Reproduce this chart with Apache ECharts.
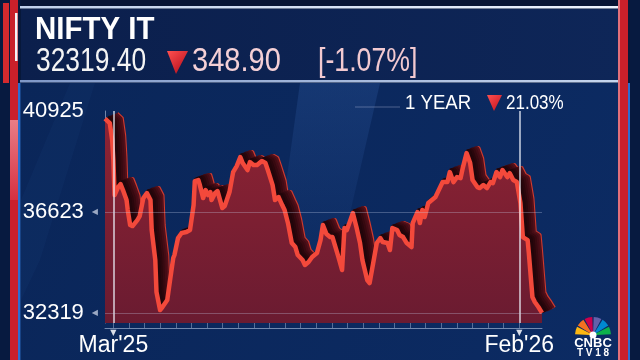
<!DOCTYPE html>
<html><head><meta charset="utf-8">
<script src="https://cdn.jsdelivr.net/npm/echarts@6/dist/echarts.min.js"></script>
<style>html,body{margin:0;padding:0;background:#07183a;overflow:hidden}#c{width:640px;height:360px}</style>
</head><body><div id="c"></div>
<script>
// ---- data ----
const days = [0,4,6,7,8,11,13,15,18,19,
21,23,27,29,32,35,38,39,42,43,
46,48,52,54,57,58,61,64,68,71,
74,75,78,79,82,84,86,88,89,92,
94,98,100,104,107,110,113,115,119,121,
124,127,131,134,136,140,142,145,148,150,
153,156,159,161,165,167,170,173,177,180,
182,185,188,190,195,198,200,202,205,207,
210,213,215,219,221,224,227,230,232,236,
238,240,244,246,249,252,256,257,261,263,
265,267,270,273,276,278,282,286,288,291,
294,297,299,302,305,307,311,313,316,319,
322,324,327,330,332,336,338,341,344,347,
349,353,354,357,359,362,365];
const values = [40600,40409,39685,38833,37342,37683,37810,37555,37129,36703,
36064,36021,36277,36447,37214,37427,37129,35851,34573,33210,
32443,32571,32869,33593,34658,34786,35510,35723,35766,35851,
36916,37938,37981,37810,37214,37555,37342,37470,37129,37427,
37512,36788,36873,37470,38322,38577,38961,38705,38407,38748,
38620,38620,38790,38705,38407,37768,37129,37257,36916,36703,
36106,35297,35127,34786,34573,34360,34488,34701,34871,35425,
36064,35680,35553,35553,34701,34147,35936,35851,36277,36575,
35979,35297,34573,33721,33593,34445,35297,35510,35340,35297,
34999,35936,35851,35638,35553,35297,35127,36149,36618,36149,
36703,36405,37001,37129,37257,37470,37896,37896,38322,37896,
38109,38066,38535,39131,38705,37981,37683,37640,37768,37640,
37896,37853,38322,38109,38407,38109,38279,37981,37896,37001,
35553,35425,34871,32997,32784,32571,32319];
const yTickValues = [32319, 36623, 40925];
const yTickLabels = ['32319', '36623', '40925'];
const xTickDays = [7, 346];
const xTickLabels = ["Mar'25", "Feb'26"];
const titleText = 'NIFTY IT';
const lastPrice = '32319.40';
const changeText = '348.90';
const changePct = '[-1.07%]';
const yearLabel = '1 YEAR';
const yearPct = '21.03%';

// ---- chart ----
const chart = echarts.init(document.getElementById('c'), null, {renderer: 'canvas'});
const lineData = days.map((d, i) => [d, values[i]]);
const Y_MIN = 31889, Y_MAX = 40925, X_MIN = 0, X_MAX = 365;
const minorY = []; for (let v = yTickValues[0]; v <= Y_MAX; v += 818) minorY.push(v);
const minorX = []; for (let k = 0; k <= 26; k++) minorX.push(xTickDays[0] + k * (xTickDays[1] - xTickDays[0]) / 26);

const G = {left: 105, right: 98, top: 111, bottom: 37};
const backOffsets = [[12, -5], [10, -4], [8, -3], [6, -2.5], [4, -1.5], [2, -1]];
const backColors = ['#cf3a2e', '#52101a', '#430c15', '#360910', '#2a060c', '#22050a'];

const grids = [], xAxes = [], yAxes = [], series = [];
backOffsets.forEach((o, k) => {
  grids.push({left: G.left + o[0], right: G.right - o[0], top: G.top + o[1], bottom: G.bottom - o[1]});
  xAxes.push({type: 'value', gridIndex: k, min: X_MIN, max: X_MAX, show: false});
  yAxes.push({type: 'value', gridIndex: k, min: Y_MIN, max: Y_MAX, show: false});
  series.push({type: 'line', xAxisIndex: k, yAxisIndex: k, data: lineData, symbol: 'none', clip: false,
    silent: true, z: 1, lineStyle: {color: backColors[k], width: k === 0 ? 4 : 6, join: 'round'}});
});
const F = backOffsets.length;
grids.push(G);
const axisCol = 'rgba(200,215,240,0.55)';
xAxes.push({
  type: 'value', gridIndex: F, min: X_MIN, max: X_MAX, offset: 5,
  axisLine: {show: true, lineStyle: {color: axisCol, width: 1}},
  axisTick: {show: true, inside: true, length: 5, customValues: minorX, lineStyle: {color: 'rgba(200,215,240,0.4)'}},
  axisLabel: {
    customValues: xTickDays, margin: 1,
    formatter: v => { const i = xTickDays.indexOf(v); return i < 0 ? '' : '{t|▼}\n{l|' + xTickLabels[i] + '}'; },
    rich: {
      t: {fontSize: 8, lineHeight: 8, color: '#d8dde8', fontFamily: 'DejaVu Sans'},
      l: {fontSize: 23, lineHeight: 17, color: '#ffffff', fontFamily: 'Liberation Sans'}
    }
  },
  splitLine: {show: false}
});
yAxes.push({
  type: 'value', gridIndex: F, min: Y_MIN, max: Y_MAX, offset: 5,
  axisLine: {show: true, lineStyle: {color: axisCol, width: 1}},
  axisTick: {show: true, inside: true, length: 5, customValues: minorY, lineStyle: {color: 'rgba(200,215,240,0.4)'}},
  axisLabel: {
    customValues: yTickValues, margin: 2,
    formatter: v => { const i = yTickValues.indexOf(v); if (i < 0) return ''; return '{v|' + yTickLabels[i] + '}{' + (i === 2 ? 'n' : 'a') + '|◀}'; },
    rich: {
      v: {fontSize: 22, color: '#ffffff', fontFamily: 'Liberation Sans'},
      a: {fontSize: 8, color: 'rgba(190,200,220,0.8)', padding: [0, 0, 0, 8], fontFamily: 'DejaVu Sans'},
      n: {fontSize: 8, color: 'rgba(0,0,0,0)', padding: [0, 0, 0, 8], fontFamily: 'DejaVu Sans'}
    }
  },
  splitLine: {show: false}
});
series.push({
  type: 'line', xAxisIndex: F, yAxisIndex: F, data: lineData, symbol: 'none', clip: false, z: 3,
  lineStyle: {color: '#f3493b', width: 4.5, join: 'round'},
  areaStyle: {opacity: 1, color: new echarts.graphic.LinearGradient(0, 0, 0, 1, [
    {offset: 0, color: '#8e2333'}, {offset: 1, color: '#6a1b31'}])},
  markLine: {
    silent: true, symbol: 'none', label: {show: false}, animation: false,
    data: [
      {xAxis: xTickDays[0], lineStyle: {color: 'rgba(235,240,250,0.85)', width: 1.5, type: 'solid'}},
      {xAxis: xTickDays[1], lineStyle: {color: 'rgba(235,240,250,0.85)', width: 1.5, type: 'solid'}},
      {yAxis: yTickValues[1], lineStyle: {color: 'rgba(200,210,235,0.3)', width: 1, type: 'solid'}},
      {yAxis: yTickValues[0], lineStyle: {color: 'rgba(200,210,235,0.3)', width: 1, type: 'solid'}}
    ]
  }
});

function txt(x, y, text, font, fill, sx, align) {
  return {type: 'text', x: x, y: y, scaleX: sx || 1, z: 10,
    style: {text: text, font: font, fill: fill, verticalAlign: 'middle', align: align || 'left'}};
}
function rect(x, y, w, h, fill, z) { return {type: 'rect', shape: {x: x, y: y, width: w, height: h}, style: {fill: fill}, z: z === undefined ? -10 : z, silent: true}; }
const lg = (x1, y1, x2, y2, a, b) => new echarts.graphic.LinearGradient(x1, y1, x2, y2, [{offset: 0, color: a}, {offset: 1, color: b}]);

const feathers = ['#fcb711', '#f37021', '#cc004c', '#6460aa', '#0089d0', '#0db14b'];
const logo = feathers.map((c, i) => ({
  type: 'sector', z: 10, silent: true,
  shape: {cx: 593, cy: 335, r0: 3, r: 18, startAngle: Math.PI + i * Math.PI / 6 + 0.04, endAngle: Math.PI + (i + 1) * Math.PI / 6 - 0.04},
  style: {fill: c}
}));

const graphics = [
  rect(0, 0, 640, 360, '#07183a', -20),
  rect(21, 83, 600, 277, lg(0, 0, 1, 1, '#0a2659', '#0c2b63'), -19),
  {type: 'polygon', z: -18, silent: true, shape: {points: [[300, 83], [380, 83], [330, 300], [270, 300]]}, style: {fill: lg(0, 0, 0, 1, 'rgba(60,110,190,0.22)', 'rgba(60,110,190,0)')}},
  {type: 'polygon', z: -18, silent: true, shape: {points: [[21, 200], [70, 83], [95, 83], [40, 260], [21, 300]]}, style: {fill: 'rgba(40,80,150,0.10)'}},
  rect(21, 9, 600, 72, lg(0, 0, 1, 0, '#0b1f4c', '#0e2658'), -19),
  rect(21, 0, 600, 7, '#081535', -19),
  rect(20, 6, 601, 2.5, lg(0, 0, 1, 0, '#c0d0ea', '#eef4ff'), -5),
  rect(20, 80, 601, 2.5, lg(0, 0, 1, 0, '#7f98c8', '#c6d6ee'), -5),
  rect(0, 0, 10, 360, '#071a40', -5),
  rect(3, 3, 6, 80, '#d42a2e', -4),
  rect(10, 0, 8, 360, '#c9202a', -4),
  rect(10, 120, 8, 80, lg(0, 0, 0, 1, '#ea7d86', '#d63040'), -3),
  rect(15, 13, 2.5, 48, '#f2f4f8', -3),
  rect(18, 83, 2.5, 277, '#2a6fd0', -4),
  rect(620, 0, 8, 360, '#c9202a', -4),
  rect(618, 0, 2, 360, '#e2707a', -4),
  rect(628, 83, 2, 277, '#2a6fd0', -4),
  rect(630, 0, 10, 360, '#071a40', -5),
  {type: 'line', z: -2, silent: true, shape: {x1: 355, y1: 107, x2: 400, y2: 107}, style: {stroke: 'rgba(200,210,235,0.35)', lineWidth: 1}},
  txt(35, 30, titleText, 'bold 31px "Liberation Sans"', '#ffffff', 0.95),
  txt(36, 62, lastPrice, '33px "Liberation Sans"', '#f4f4f4', 0.8),
  {type: 'polygon', z: 10, silent: true, shape: {points: [[167, 51], [188, 51], [176, 74]]}, style: {fill: lg(0, 0, 1, 1, '#ff5050', '#b00818')}},
  txt(192, 62, changeText, '33px "Liberation Sans"', '#f5d0d6', 0.88),
  txt(318, 62, changePct, '33px "Liberation Sans"', '#f2c9d0', 0.81),
  txt(405, 103, yearLabel, '20px "Liberation Sans"', '#ffffff', 0.93),
  {type: 'polygon', z: 10, silent: true, shape: {points: [[487, 95], [502, 95], [494, 111]]}, style: {fill: lg(0, 0, 1, 1, '#ff5050', '#c0101c')}},
  txt(506, 103, yearPct, '20px "Liberation Sans"', '#ffffff', 0.85),
  ...logo,
  {type: 'circle', z: 11, silent: true, shape: {cx: 593, cy: 335, r: 3.5}, style: {fill: '#ffffff'}},
  txt(593, 343, 'CNBC', 'bold 13px "Liberation Sans"', '#ffffff', 1, 'center'),
  txt(593, 353, 'T V 1 8', 'bold 10px "Liberation Sans"', '#ffffff', 1, 'center')
];

chart.setOption({
  animation: false,
  backgroundColor: '#07183a',
  grid: grids, xAxis: xAxes, yAxis: yAxes, series: series,
  graphic: {elements: graphics}
});
</script></body></html>
